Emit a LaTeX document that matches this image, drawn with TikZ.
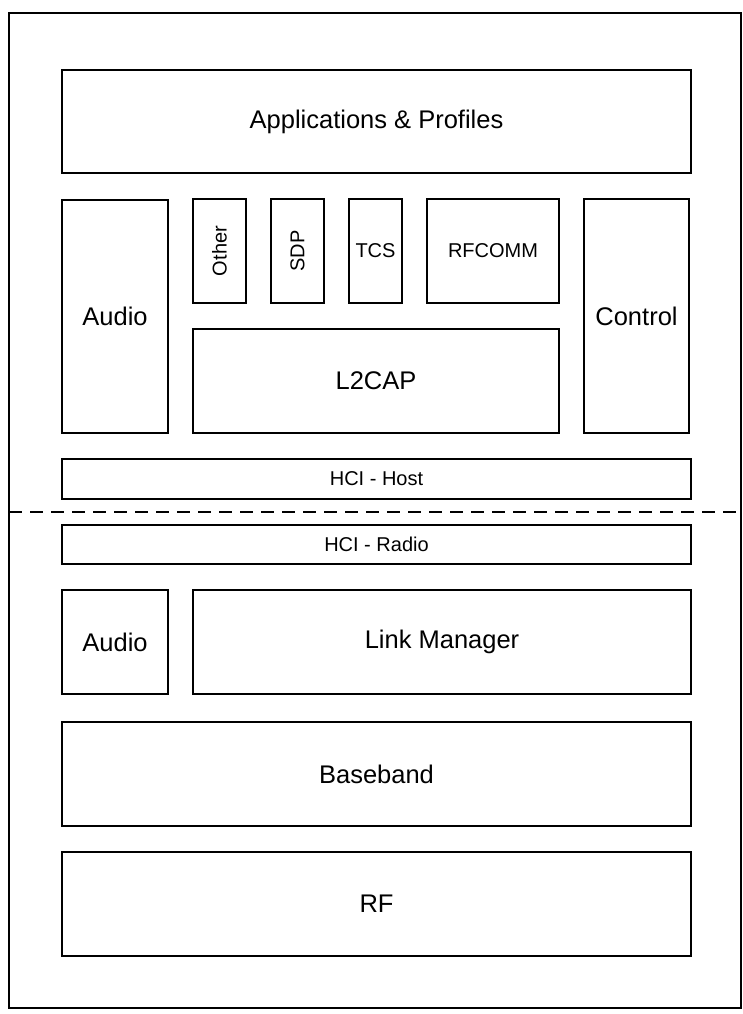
\documentclass[tikz,border=0pt]{standalone}
\usepackage{fontspec}
\setmainfont{Liberation Sans}
\begin{document}
\begin{tikzpicture}[x=1pt,y=-1pt,
  box/.style={draw=black, line width=1.8pt, inner sep=0pt, align=center},
  big/.style={font=\fontsize{25.5}{30}\selectfont},
  small/.style={font=\fontsize{20}{24}\selectfont},
  frame/.style={draw=black, line width=1.6pt},
  divider/.style={draw=black, line width=1.8pt, dash pattern=on 13pt off 8pt}]
\useasboundingbox (0,0) rectangle (742,1014);
\draw[frame] (9,13) rectangle (741,1008);
% host side
\node[box,big,minimum width=629pt,minimum height=103pt] (apps) at (376.5,121.5) {Applications \& Profiles};
\node[box,big,minimum width=106pt,minimum height=233pt] (audioH) at (115,316.5) {Audio};
\node[box,small,rotate=90,minimum width=104pt,minimum height=53pt] (other) at (219.5,251) {Other};
\node[box,small,rotate=90,minimum width=104pt,minimum height=53pt] (sdp) at (297.5,251) {SDP};
\node[box,small,minimum width=53pt,minimum height=104pt] (tcs) at (375.5,251) {TCS};
\node[box,small,minimum width=132pt,minimum height=104pt] (rfcomm) at (493,251) {RFCOMM};
\node[box,big,minimum width=366pt,minimum height=104pt] (l2cap) at (376,381) {L2CAP};
\node[box,big,minimum width=105pt,minimum height=234pt] (control) at (636.5,316) {Control};
\node[box,small,minimum width=629pt,minimum height=40pt] (hcihost) at (376.5,479) {HCI - Host};
% divider
\coordinate (dl) at (9,512);
\coordinate (dr) at (742,512);
\draw[divider] (dl) -- (dr);
% radio side
\node[box,small,minimum width=629pt,minimum height=39pt] (hciradio) at (376.5,544.5) {HCI - Radio};
\node[box,big,minimum width=106pt,minimum height=104pt] (audioR) at (115,642) {Audio};
\node[box,big,minimum width=498pt,minimum height=104pt] (lm) at (442,642) {Link Manager};
\node[box,big,minimum width=629pt,minimum height=104pt] (bb) at (376.5,774) {Baseband};
\node[box,big,minimum width=629pt,minimum height=104pt] (rf) at (376.5,904) {RF};
\end{tikzpicture}
\end{document}
